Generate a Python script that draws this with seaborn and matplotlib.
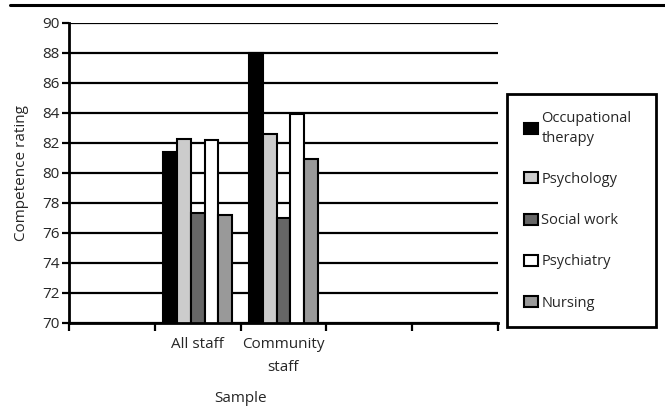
import matplotlib
matplotlib.use("Agg")
import matplotlib.pyplot as plt
from matplotlib.lines import Line2D
import seaborn as sns
import pandas as pd

# Mean competence ratings by profession, for each sample
professions = ["Occupational therapy", "Psychology", "Social work", "Psychiatry", "Nursing"]
legend_labels = ["Occupational\ntherapy", "Psychology", "Social work", "Psychiatry", "Nursing"]
all_staff = [81.4, 82.25, 77.35, 82.2, 77.2]
community_staff = [88.0, 82.6, 77.0, 83.9, 80.9]

# Category slots along the x axis (three of them are left empty)
slot_order = [" ", "All staff", "Community staff", "  ", "   "]
slot_labels = ["", "All staff", "Community\nstaff", "", ""]
y_ticks = list(range(70, 91, 2))
bar_colors = ["#000000", "#cccccc", "#666666", "#ffffff", "#999999"]

rows = []
for prof, a, c in zip(professions, all_staff, community_staff):
    rows.append({"Sample": "All staff", "Profession": prof, "Rating": a})
    rows.append({"Sample": "Community staff", "Profession": prof, "Rating": c})
df = pd.DataFrame(rows)

sns.set_style("white")
plt.rcParams["font.family"] = ["Open Sans", "DejaVu Sans"]
plt.rcParams["font.size"] = 11

fig = plt.figure(figsize=(6.65, 4.08), dpi=100)
W, H = 665, 408
ax = fig.add_axes([69 / W, 1 - 323 / H, 429 / W, 300 / H])

sns.barplot(data=df, x="Sample", y="Rating", hue="Profession",
            order=slot_order, hue_order=professions, palette=bar_colors,
            edgecolor="black", linewidth=1.5, width=0.8, saturation=1,
            ax=ax)

ax.set_ylim(70, 90)
ax.set_xlim(-0.5, len(slot_order) - 0.5)
ax.set_yticks(y_ticks)
ax.yaxis.grid(True, color="black", linewidth=1.6)
ax.set_axisbelow(True)

# tick marks between categories, labels at the category centres
ax.set_xticks([i - 0.5 for i in range(len(slot_order) + 1)])
ax.set_xticklabels([])
ax.set_xticks(range(len(slot_order)), minor=True)
ax.set_xticklabels(slot_labels, minor=True, linespacing=1.75, fontsize=11)
ax.tick_params(axis="x", which="major", direction="out", length=6, width=1.6,
               color="black", bottom=True)
ax.tick_params(axis="x", which="minor", length=0, pad=10)
ax.tick_params(axis="y", direction="out", length=5, width=1.6, color="black",
               left=True, pad=2, labelsize=11)
for lab in ax.get_xticklabels(minor=True):
    lab.set_verticalalignment("top")

for side in ["top", "right"]:
    ax.spines[side].set_visible(False)
for side in ["left", "bottom"]:
    ax.spines[side].set_color("black")
    ax.spines[side].set_linewidth(2)

ax.set_ylabel("Competence rating", fontsize=11)
ax.yaxis.set_label_coords(-0.094, 0.5)
ax.set_xlabel("Sample", fontsize=11)
ax.xaxis.set_label_coords((241 - 69) / 429, -0.225)

handles, _ = ax.get_legend_handles_labels()
leg = ax.legend(handles, legend_labels, loc="upper left",
                bbox_to_anchor=(507 / W, 1 - 94 / H, 149 / W, 0),
                bbox_transform=fig.transFigure, mode="expand",
                borderaxespad=0, borderpad=1.15, labelspacing=1.8,
                handlelength=1.0, handleheight=0.8, handletextpad=0.2,
                frameon=True, fancybox=False, framealpha=1, fontsize=10.5)
leg.get_frame().set_edgecolor("black")
leg.get_frame().set_linewidth(2)
for t in leg.get_texts():
    t.set_linespacing(1.45)

# rule across the top of the figure
fig.add_artist(Line2D([10 / W, 1], [1 - 4.5 / H, 1 - 4.5 / H],
                      transform=fig.transFigure, color="black", linewidth=2.2))

fig.savefig("out.png", dpi=100)
